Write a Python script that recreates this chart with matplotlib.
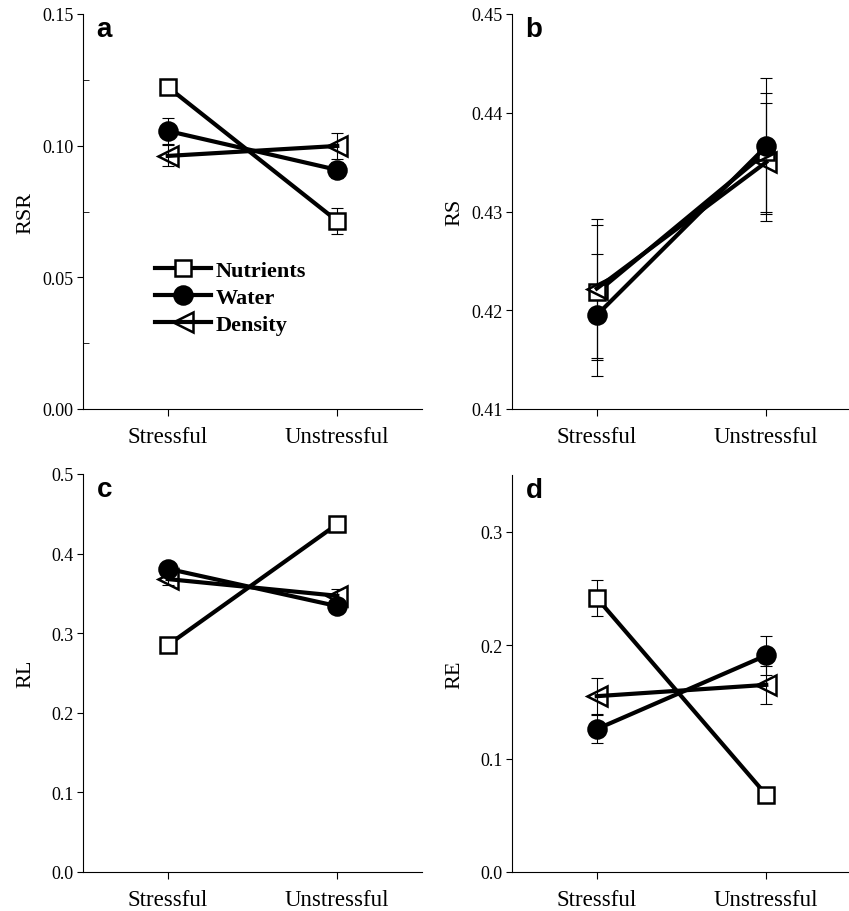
import numpy as np
import matplotlib.pyplot as plt
from matplotlib.ticker import MultipleLocator

plt.rcParams["font.family"] = ["Liberation Serif", "DejaVu Serif"]

categories = ["Stressful", "Unstressful"]
series = ["Nutrients", "Water", "Density"]

# panel a: RSR
rsr_mean = {"Nutrients": [0.1223, 0.0714], "Water": [0.1056, 0.0908], "Density": [0.0961, 0.0999]}
rsr_err = {"Nutrients": [0.003, 0.005], "Water": [0.005, 0.003], "Density": [0.004, 0.005]}

# panel b: RS
rs_mean = {"Nutrients": [0.4218, 0.4360], "Water": [0.4195, 0.4366], "Density": [0.4222, 0.4350]}
rs_err = {"Nutrients": [0.0068, 0.0060], "Water": [0.0062, 0.0069], "Density": [0.0070, 0.0060]}

# panel c: RL
rl_mean = {"Nutrients": [0.285, 0.437], "Water": [0.381, 0.334], "Density": [0.368, 0.347]}
rl_err = {"Nutrients": [0.006, 0.005], "Water": [0.005, 0.005], "Density": [0.008, 0.008]}

# panel d: RE
re_mean = {"Nutrients": [0.2416, 0.068], "Water": [0.126, 0.191], "Density": [0.155, 0.165]}
re_err = {"Nutrients": [0.016, 0.003], "Water": [0.012, 0.017], "Density": [0.016, 0.017]}

styles = {
    "Nutrients": dict(marker="s", mfc="white", ms=12),
    "Water": dict(marker="o", mfc="black", ms=13),
    "Density": dict(marker="<", mfc="none", ms=14),
}

W, H = 849, 912
fig = plt.figure(figsize=(W / 100, H / 100), dpi=100)


def px_axes(left, right, top, bottom):
    return fig.add_axes([left / W, 1 - bottom / H, (right - left) / W, (bottom - top) / H])


def panel(ax, means, errs, ylim, major, minor, ylabel, letter, fmt):
    x = np.array([1, 2])
    for name in series:
        st = styles[name]
        ax.errorbar(x, means[name], yerr=errs[name], color="black", lw=0, elinewidth=0.8,
                    capsize=4, capthick=0.8, zorder=2)
        ax.plot(x, means[name], color="black", lw=3, marker=st["marker"], ms=st["ms"],
                mfc=st["mfc"], mec="black", mew=1.8, label=name, zorder=3)
    ax.set_xlim(0.5, 2.5)
    ax.set_ylim(*ylim)
    ax.set_xticks(x)
    ax.set_xticklabels(categories, fontsize=16.5)
    ax.yaxis.set_major_locator(MultipleLocator(major))
    if minor:
        ax.yaxis.set_minor_locator(MultipleLocator(minor))
        ax.tick_params(axis="y", which="minor", direction="in", length=4)
    ax.yaxis.set_major_formatter(plt.FormatStrFormatter(fmt))
    ax.tick_params(axis="y", which="major", labelsize=13, length=4, pad=3)
    ax.tick_params(axis="x", length=5, pad=7)
    for s in ["top", "right"]:
        ax.spines[s].set_visible(False)
    ax.set_ylabel(ylabel, fontsize=16)
    ax.yaxis.set_label_coords(-0.14, 0.5)
    ax.text(0.04, 0.995, letter, transform=ax.transAxes, fontsize=20, fontweight="bold",
            family="Liberation Sans", va="top", ha="left")


ax_a = px_axes(83, 422, 15, 410)
panel(ax_a, rsr_mean, rsr_err, (0, 0.15), 0.05, 0.025, "RSR", "a", "%.2f")
leg = ax_a.legend(loc="upper left", bbox_to_anchor=(0.18, 0.405), frameon=False, fontsize=16,
                  handlelength=2.5, handletextpad=0.22, labelspacing=0.3, borderpad=0)
for t in leg.get_texts():
    t.set_fontweight("bold")

ax_b = px_axes(512, 851, 15, 410)
panel(ax_b, rs_mean, rs_err, (0.41, 0.45), 0.01, None, "RS", "b", "%.2f")

ax_c = px_axes(83, 422, 475, 873)
panel(ax_c, rl_mean, rl_err, (0, 0.5), 0.1, None, "RL", "c", "%.1f")

ax_d = px_axes(512, 851, 476, 873)
panel(ax_d, re_mean, re_err, (0, 0.35), 0.1, None, "RE", "d", "%.1f")

fig.savefig("out.png", dpi=100)
